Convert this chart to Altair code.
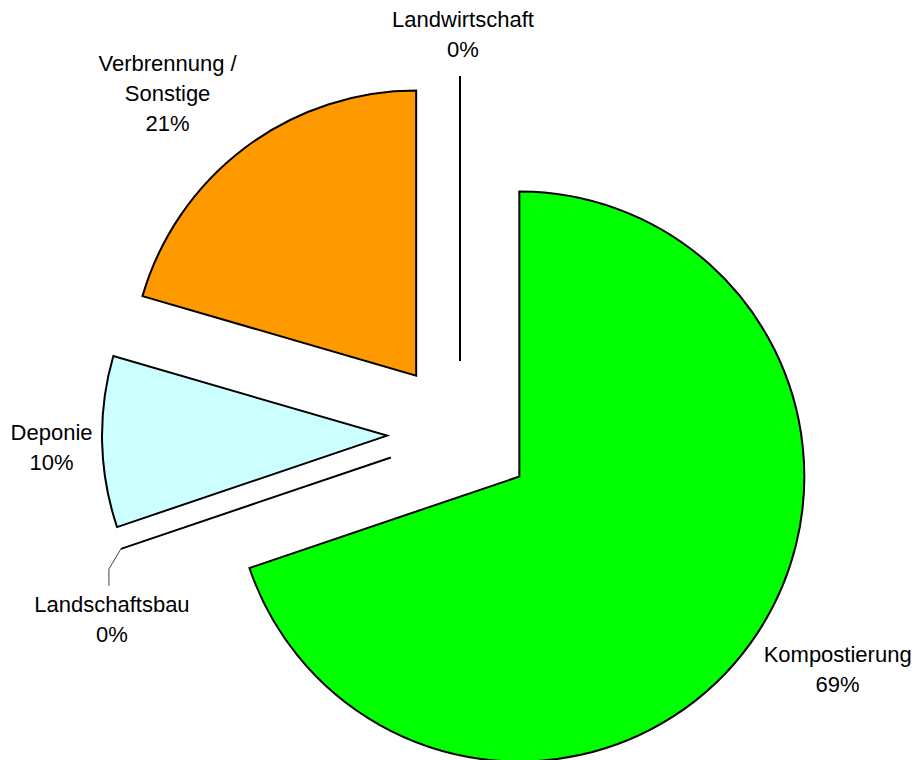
import altair as alt
import pandas as pd

# ---- data ----
categories = ["Kompostierung", "Landschaftsbau", "Deponie", "Verbrennung /\nSonstige", "Landwirtschaft"]
shares = [69.8, 0.0, 9.7, 20.5, 0.0]
pct_labels = ["69%", "0%", "10%", "21%", "0%"]
fill_colors = ["#00FF00", "#FFFFFF", "#CCFFFF", "#FF9900", "#FFFFFF"]
moved_labels = ["Landschaftsbau"]  # label dragged away with a leader line

# ---- layout constants ----
W, H = 904, 752
CX, CY = 452, 426      # centre of the (unexploded) pie inside the plot area
R = 285                # pie radius
EXPLODE = 73           # distance each slice is pulled out
LABEL_R = 300          # distance of the label anchor from the slice apex
FONT = 22
LINE_H = 30
CHAR_W = 11
CAP = 15
LABEL_DX, LABEL_DY = 3, -4

name_lines = [c.split("\n") for c in categories]
df = pd.DataFrame({
    "order": list(range(len(categories))),
    "category": categories,
    "share": shares,
    "pct": pct_labels,
})
df["lines"] = [l + [p] for l, p in zip(name_lines, pct_labels)]
df["nlines"] = [len(l) for l in name_lines]
df["maxchars"] = [max(len(s) for s in l) for l in name_lines]
df["moved"] = [c in moved_labels for c in categories]

base = (
    alt.Chart(df)
    .transform_window(cum="sum(share)", sort=[alt.SortField("order")], frame=[None, 0])
    .transform_joinaggregate(total="sum(share)")
    .transform_calculate(t1="datum.cum / datum.total * 2 * PI")
    .transform_calculate(t0="(datum.cum - datum.share) / datum.total * 2 * PI")
    .transform_calculate(mid="(datum.t0 + datum.t1) / 2")
    .transform_calculate(ax=f"{CX} + {EXPLODE} * sin(datum.mid)")
    .transform_calculate(ay=f"{CY} - {EXPLODE} * cos(datum.mid)")
    .transform_calculate(tipx=f"datum.ax + {R} * sin(datum.mid)")
    .transform_calculate(tipy=f"datum.ay - {R} * cos(datum.mid)")
    .transform_calculate(hw=f"datum.maxchars * {CHAR_W} / 2")
    .transform_calculate(hh=f"({CAP} + {LINE_H} * datum.nlines) / 2")
    .transform_calculate(
        cxl=f"datum.ax + {LABEL_R} * sin(datum.mid) + datum.hw * clamp(20 * sin(datum.mid), -1, 1) + {LABEL_DX}"
    )
    .transform_calculate(
        cyl=f"datum.ay - {LABEL_R} * cos(datum.mid) - datum.hh * clamp(20 * cos(datum.mid), -1, 1) + {LABEL_DY}"
    )
    .transform_calculate(lx="datum.moved ? datum.tipx - 9 : datum.cxl")
    .transform_calculate(ly=f"datum.moved ? datum.tipy + 56 : datum.cyl - {LINE_H} * datum.nlines / 2")
    .transform_calculate(kx="datum.tipx - 12")
    .transform_calculate(ky="datum.tipy + 20")
    .transform_calculate(ky2="datum.tipy + 37")
)

arcs = base.mark_arc(radius=R, stroke="black", strokeWidth=2).encode(
    x=alt.X("ax:Q", scale=None, axis=None),
    y=alt.Y("ay:Q", scale=None, axis=None),
    theta=alt.Theta("t0:Q", scale=None),
    theta2="t1:Q",
    color=alt.Color("category:N", scale=alt.Scale(domain=categories, range=fill_colors), legend=None),
)

moved = base.transform_filter("datum.moved")
leader1 = moved.mark_rule(color="#444444", strokeWidth=1).encode(
    x=alt.X("tipx:Q", scale=None, axis=None),
    y=alt.Y("tipy:Q", scale=None, axis=None),
    x2="kx:Q",
    y2="ky:Q",
)
leader2 = moved.mark_rule(color="#444444", strokeWidth=1).encode(
    x=alt.X("kx:Q", scale=None, axis=None),
    y=alt.Y("ky:Q", scale=None, axis=None),
    y2="ky2:Q",
)

labels = base.mark_text(
    font="Liberation Sans", fontSize=FONT, lineHeight=LINE_H,
    align="center", baseline="middle", color="black",
).encode(
    x=alt.X("lx:Q", scale=None, axis=None),
    y=alt.Y("ly:Q", scale=None, axis=None),
    text=alt.Text("lines:N"),
)

chart = (
    alt.layer(arcs, leader1, leader2, labels)
    .properties(width=W, height=H, padding=0, autosize=alt.AutoSizeParams(type="none"))
    .configure_view(stroke=None)
)

chart.save("out.html", embed_options={"renderer": "svg", "actions": False})
